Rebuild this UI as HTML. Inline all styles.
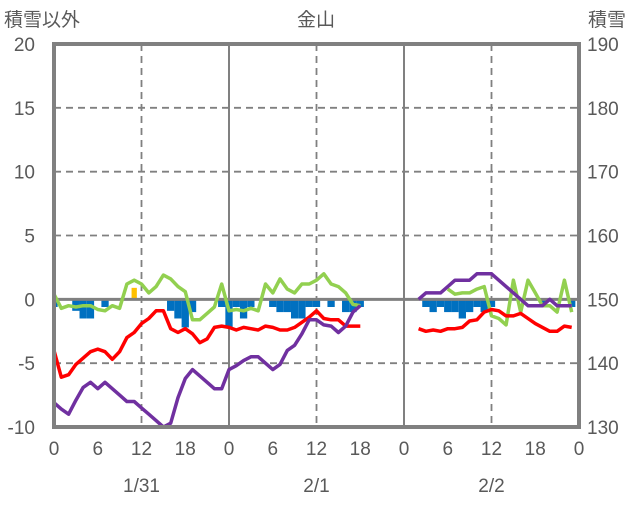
<!DOCTYPE html>
<html><head><meta charset="utf-8"><style>
body{margin:0;background:#fff;width:636px;height:501px;overflow:hidden}
svg text{font-family:"Liberation Sans","Noto Sans CJK JP",sans-serif;fill:#595959}
</style></head><body>
<svg id="chart" width="636" height="501" xmlns="http://www.w3.org/2000/svg"></svg>
<script>
const yTicksLeft=[20,15,10,5,0,-5,-10];
const yTicksRight=[190,180,170,160,150,140,130];
const hourTicks=[0,6,12,18,0,6,12,18,0,6,12,18,0];
const dateLabels=['1/31','2/1','2/2'];
// hourly series, index = hours from 1/31 00:00 (null = missing)
const N=null;
const red=[-4.0,-6.1,-5.9,-5.1,-4.6,-4.1,-3.9,-4.1,-4.7,-4.1,-3.0,-2.6,-1.9,-1.5,-0.9,-0.9,-2.3,-2.6,-2.3,-2.7,-3.4,-3.1,-2.2,-2.1,
 -2.2,-2.4,-2.2,-2.3,-2.4,-2.1,-2.2,-2.4,-2.4,-2.2,-1.8,-1.4,-0.9,-1.5,-1.6,-1.6,-2.1,-2.1,-2.1,N,N,N,N,N,
 N,N,-2.3,-2.5,-2.4,-2.5,-2.3,-2.3,-2.2,-1.7,-1.6,-1.0,-0.8,-0.9,-1.3,-1.3,-1.1,-1.5,-1.9,-2.2,-2.5,-2.5,-2.1,-2.2];
const purple=[-8.1,-8.6,-9.0,-7.9,-6.9,-6.5,-7.0,-6.5,-7.0,-7.5,-8.0,-8.0,-8.5,-9.0,-9.5,-10.0,-9.7,-7.7,-6.2,-5.5,-6.0,-6.5,-7.0,-7.0,
 -5.5,-5.2,-4.8,-4.5,-4.5,-5.0,-5.5,-5.1,-4.0,-3.6,-2.7,-1.6,-1.6,-2.0,-2.1,-2.6,-2.1,-1.0,-0.5,N,N,N,N,N,
 N,N,0.0,0.5,0.5,0.5,1.0,1.5,1.5,1.5,2.0,2.0,2.0,1.5,1.0,0.5,0.0,-0.5,-0.5,-0.5,0.0,-0.5,-0.5,-0.5];
const green=[0.4,-0.7,-0.5,-0.6,-0.5,-0.5,-0.8,-0.9,-0.5,-0.7,1.2,1.5,1.2,0.5,1.0,1.9,1.6,1.0,0.6,-1.6,-1.6,-1.1,-0.6,1.2,
 -0.9,-0.8,-0.9,-0.7,-0.9,1.2,0.5,1.6,0.8,0.5,1.2,1.2,1.5,2.0,1.2,1.0,0.5,-0.4,-0.5,N,N,N,N,N,
 N,N,N,N,N,N,0.8,0.4,0.5,0.5,0.8,1.0,-1.3,-1.5,-2.0,1.5,-1.0,1.5,0.5,-0.5,-0.5,-1.0,1.5,-1.0];
const blueBars=[-0.6,0,0,-0.9,-1.5,-1.5,0,-0.6,0,0,0,0,0,0,0,0,-0.9,-1.5,-2.2,-1.0,0,0,0,-0.6,
 -2.2,-0.6,-1.5,-0.6,0,0,-0.6,-1.0,-1.0,-1.5,-1.5,-0.6,-0.6,0,-0.6,0,-1.0,-1.0,-0.6,0,0,0,0,0,
 0,0,0,-0.6,-1.0,-0.6,-1.0,-1.0,-1.5,-1.0,-0.6,-1.0,-0.6,0,0,0,0,0,0,-0.3,0,0,0,-0.6];
const orangeBars=[[11,0.9]];

const svg=document.getElementById('chart');
const NS='http://www.w3.org/2000/svg';
const L=54,R=579,T=44,B=427;
const X=h=>L+(R-L)*h/72;
const Y=v=>B-(v+10)*(B-T)/30;
function mk(tag,attrs,parent){const e=document.createElementNS(NS,tag);for(const k in attrs)e.setAttribute(k,attrs[k]);(parent||svg).appendChild(e);return e;}

// grid
[15,10,5,-5].forEach(v=>{const g=mk('line',{x1:L,x2:R,y1:Y(v),y2:Y(v),stroke:'#808080','stroke-width':1.8,'stroke-dasharray':'7,5'});

});
[12,36,60].forEach(h=>{const g=mk('line',{x1:X(h),x2:X(h),y1:T,y2:B,stroke:'#808080','stroke-width':1.8,'stroke-dasharray':'7,5'});

});
[24,48].forEach(h=>{const g=mk('line',{x1:X(h),x2:X(h),y1:T,y2:B,stroke:'#808080','stroke-width':2});

});

// bars
const bw=(R-L)/72;
blueBars.forEach((v,i)=>{if(!v)return;let x0=Math.max(L,X(i)-bw/2),x1=Math.min(R,X(i)+bw/2);
const b=mk('rect',{x:x0,y:Y(0),width:x1-x0,height:Y(v)-Y(0),fill:'#0070C0'});

});
orangeBars.forEach(([i,v])=>{const b=mk('rect',{x:X(i)-bw/2+1,y:Y(v),width:bw-2,height:Y(0)-Y(v),fill:'#FFC000'});

});

// zero line
const z=mk('line',{x1:L,x2:R,y1:Y(0),y2:Y(0),stroke:'#808080','stroke-width':3});



function series(arr,color,name){let d='',pen=false;arr.forEach((v,i)=>{if(v===null){pen=false;return;}d+=(pen?'L':'M')+X(i).toFixed(1)+','+Y(v).toFixed(1);pen=true;});
const p=mk('path',{d:d,fill:'none',stroke:color,'stroke-width':3.5,'stroke-linejoin':'round'});

}
series(green,'#92D050','green-series');
series(red,'#FF0000','temperature-series');
series(purple,'#7030A0','purple-series');

// frame
const f=mk('rect',{x:L,y:T,width:R-L,height:B-T,fill:'none',stroke:'#808080','stroke-width':4});



yTicksLeft.forEach(v=>{const t=mk('text',{x:35,y:Y(v)+7,'text-anchor':'end','font-size':19});t.textContent=v;

});
yTicksRight.forEach((v,i)=>{const t=mk('text',{x:587,y:Y(yTicksLeft[i])+7,'font-size':19});t.textContent=v;

});
hourTicks.forEach((v,i)=>{const t=mk('text',{x:X(i*6),y:455,'text-anchor':'middle','font-size':19});t.textContent=v;

});
dateLabels.forEach((v,i)=>{const t=mk('text',{x:X(12+24*i),y:492,'text-anchor':'middle','font-size':19});t.textContent=v;

});
[['積雪以外',4,'start','left-axis-title'],['金山',316,'middle','chart-title'],['積雪',588,'start','right-axis-title']].forEach(([s,x,a,n])=>{
const t=mk('text',{x:x,y:26,'text-anchor':a,'font-size':19});t.textContent=s;

});
</script>
</body></html>
